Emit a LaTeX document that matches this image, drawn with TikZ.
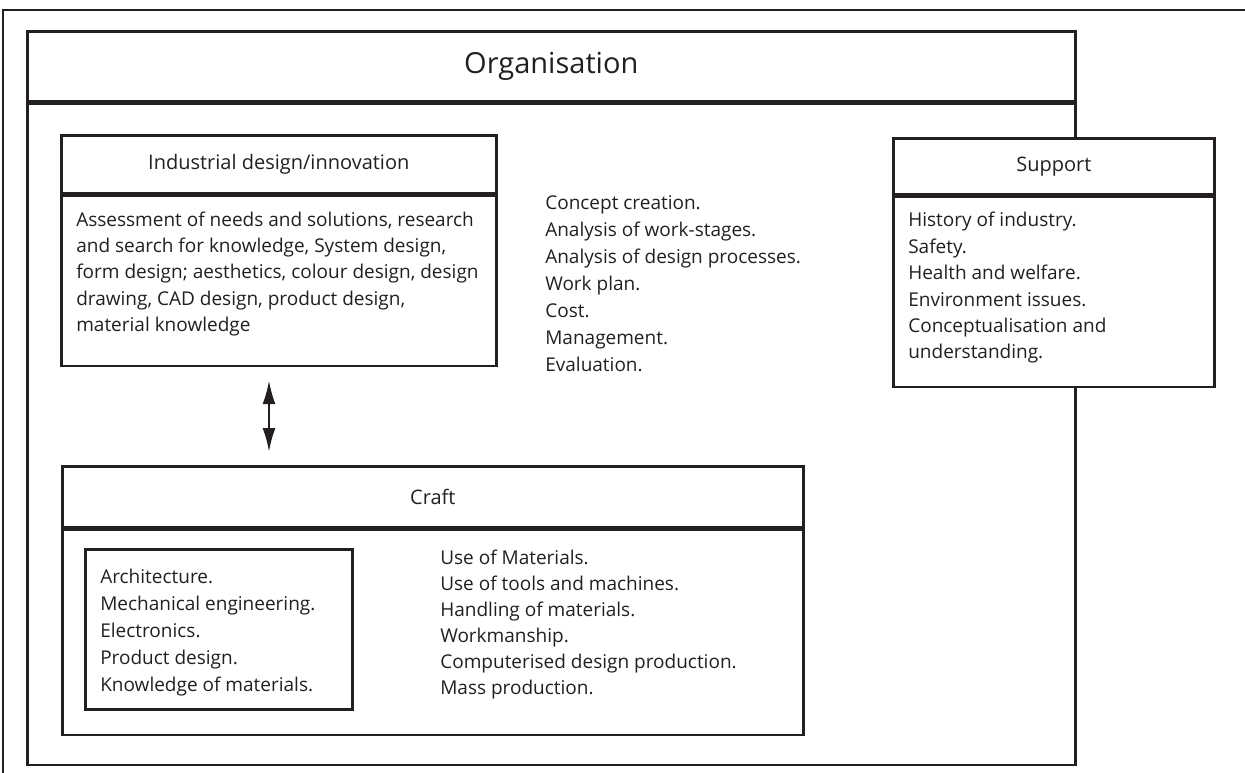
\documentclass[tikz,border=0pt]{standalone}
\usepackage{fontspec}
\setmainfont{Open Sans}
\usetikzlibrary{arrows.meta}
\definecolor{ink}{HTML}{231F20}
\begin{document}
\begin{tikzpicture}[x=1pt,y=-1pt, line width=2.6pt, draw=ink, text=ink,
  frame/.style={draw=ink, line width=2.6pt, rectangle, inner sep=0pt, anchor=north west},
  hdr/.style={frame, fill=white, font=\fontsize{20}{24}\selectfont},
  lst/.style={anchor=north west, inner sep=0pt, align=left, font=\fontsize{19}{26.5}\selectfont},
  dbl/.style={{Latex[length=24pt,width=13pt]}-{Latex[length=24pt,width=13pt]}, line width=2.4pt, draw=ink}]
\useasboundingbox (0,0) rectangle (1245,773);
% outer frame
\draw[line width=2.6pt] (3,773) -- (3,10) -- (1245,10);
% organisation
\node[frame, minimum width=1048pt, minimum height=70pt, font=\fontsize{29}{33}\selectfont] (orgT) at (26,30) {Organisation};
\node[frame, minimum width=1048pt, minimum height=661pt] (orgB) at (orgT.south west) {};
% industrial design
\node[hdr, minimum width=435pt, minimum height=58pt] (indT) at (60,134) {Industrial design/innovation};
\node[frame, minimum width=435pt, minimum height=170pt] (indB) at (indT.south west) {};
\node[lst, font=\fontsize{19}{26.3}\selectfont] (indL) at (75,210.5) {Assessment of needs and solutions, research\\and search for knowledge, System design,\\form design; aesthetics, colour design, design\\drawing, CAD design, product design,\\material knowledge};
% middle list
\node[lst, font=\fontsize{19}{27}\selectfont] (midL) at (544,194) {Concept creation.\\Analysis of work-stages.\\Analysis of design processes.\\Work plan.\\Cost.\\Management.\\Evaluation.};
% support
\node[hdr, minimum width=321pt, minimum height=56pt] (supT) at (892,137) {Support};
\node[frame, fill=white, minimum width=321pt, minimum height=190pt] (supB) at (supT.south west) {};
\node[lst, font=\fontsize{19}{26.4}\selectfont] (supL) at (907,211) {History of industry.\\Safety.\\Health and welfare.\\Environment issues.\\Conceptualisation and\\understanding.};
% craft
\node[hdr, minimum width=741pt, minimum height=61pt] (crT) at (61,465) {Craft};
\node[frame, minimum width=741pt, minimum height=205pt] (crB) at (crT.south west) {};
\node[frame, minimum width=267pt, minimum height=160pt] (inB) at (84,548) {};
\node[lst, font=\fontsize{19}{27}\selectfont] (inL) at (99,567.5) {Architecture.\\Mechanical engineering.\\Electronics.\\Product design.\\Knowledge of materials.};
\node[lst, font=\fontsize{19}{26}\selectfont] (crL) at (439,549) {Use of Materials.\\Use of tools and machines.\\Handling of materials.\\Workmanship.\\Computerised design production.\\Mass production.};
% arrow
\coordinate (ax) at (269,0);
\draw[dbl, shorten <=13pt, shorten >=13pt] (indB.south -| ax) -- (crT.north -| ax);
\end{tikzpicture}
\end{document}
